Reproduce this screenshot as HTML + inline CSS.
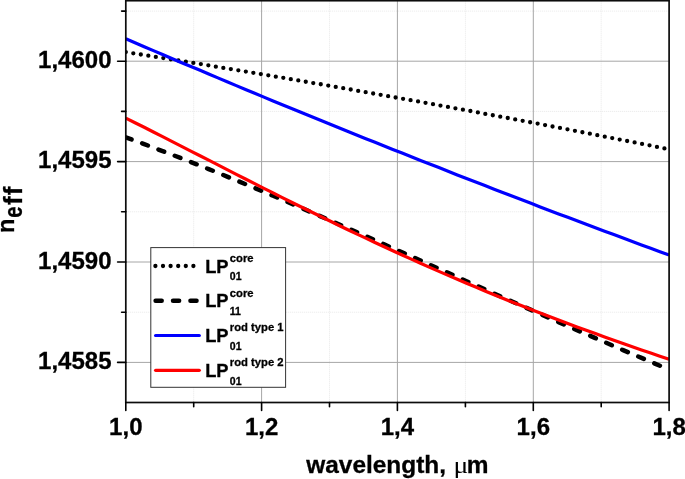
<!DOCTYPE html>
<html><head><meta charset="utf-8"><title>n_eff vs wavelength</title>
<style>
html,body{margin:0;padding:0;background:#fff;}
body{width:685px;height:479px;overflow:hidden;}
svg{display:block;}
text{font-family:"Liberation Sans",Arial,sans-serif;font-weight:bold;fill:#000;stroke:#000;stroke-width:0.3px;}
.mj{stroke:#a6a6a6;stroke-width:1;}
.mn{stroke:#e8e8e8;stroke-width:1;stroke-dasharray:1 1;}
.tk{stroke:#000;stroke-width:1.6;stroke-linecap:round;}
.tl{font-size:24px;}
.lp{font-size:18.3px;}
.ss{font-size:11.25px;}
.sb{font-size:10.5px;}
.c-dot{fill:none;stroke:#000;stroke-width:4.3;stroke-linecap:round;stroke-dasharray:0 7.6;}
.c-dash{fill:none;stroke:#000;stroke-width:4.5;stroke-linecap:round;stroke-dasharray:6.1 11.32;}
.c-blue{fill:none;stroke:#0000ff;stroke-width:3.2;stroke-linecap:round;}
.c-red{fill:none;stroke:#ff0000;stroke-width:3.2;stroke-linecap:round;}
</style></head>
<body>
<svg width="685" height="479" viewBox="0 0 685 479">
<rect width="685" height="479" fill="#fff"/>
<g>
<line x1="193.7" y1="0.7" x2="193.7" y2="402.5" class="mn"/>
<line x1="329.5" y1="0.7" x2="329.5" y2="402.5" class="mn"/>
<line x1="465.4" y1="0.7" x2="465.4" y2="402.5" class="mn"/>
<line x1="601.2" y1="0.7" x2="601.2" y2="402.5" class="mn"/>
<line x1="125.8" y1="11.1" x2="669.1" y2="11.1" class="mn"/>
<line x1="125.8" y1="111.4" x2="669.1" y2="111.4" class="mn"/>
<line x1="125.8" y1="211.8" x2="669.1" y2="211.8" class="mn"/>
<line x1="125.8" y1="312.2" x2="669.1" y2="312.2" class="mn"/>
<line x1="261.6" y1="0.7" x2="261.6" y2="402.5" class="mj"/>
<line x1="397.4" y1="0.7" x2="397.4" y2="402.5" class="mj"/>
<line x1="533.3" y1="0.7" x2="533.3" y2="402.5" class="mj"/>
<line x1="125.8" y1="61.2" x2="669.1" y2="61.2" class="mj"/>
<line x1="125.8" y1="161.6" x2="669.1" y2="161.6" class="mj"/>
<line x1="125.8" y1="262.0" x2="669.1" y2="262.0" class="mj"/>
<line x1="125.8" y1="362.4" x2="669.1" y2="362.4" class="mj"/>
</g>
<clipPath id="cp"><rect x="125.8" y="0.7" width="543.3000000000001" height="401.8"/></clipPath>
<g clip-path="url(#cp)">
<path d="M125.8,52.1 L135.0,53.6 L144.2,55.0 L153.4,56.5 L162.6,58.0 L171.8,59.5 L181.1,60.9 L190.3,62.4 L199.5,63.9 L208.7,65.4 L217.9,67.0 L227.1,68.5 L236.3,70.0 L245.5,71.5 L254.7,73.1 L263.9,74.6 L273.1,76.2 L282.3,77.7 L291.6,79.3 L300.8,80.9 L310.0,82.5 L319.2,84.0 L328.4,85.6 L337.6,87.2 L346.8,88.8 L356.0,90.5 L365.2,92.1 L374.4,93.7 L383.6,95.3 L392.8,97.0 L402.1,98.6 L411.3,100.3 L420.5,101.9 L429.7,103.6 L438.9,105.3 L448.1,107.0 L457.3,108.7 L466.5,110.3 L475.7,112.0 L484.9,113.8 L494.1,115.5 L503.3,117.2 L512.6,118.9 L521.8,120.7 L531.0,122.4 L540.2,124.1 L549.4,125.9 L558.6,127.7 L567.8,129.4 L577.0,131.2 L586.2,133.0 L595.4,134.8 L604.6,136.6 L613.8,138.4 L623.1,140.2 L632.3,142.0 L641.5,143.8 L650.7,145.6 L659.9,147.5 L669.1,149.3" class="c-dot"/>
<path d="M125.8,137.4 L135.0,140.7 L144.2,144.1 L153.4,147.6 L162.6,151.1 L171.8,154.6 L181.1,158.2 L190.3,161.8 L199.5,165.4 L208.7,169.1 L217.9,172.8 L227.1,176.6 L236.3,180.4 L245.5,184.2 L254.7,188.0 L263.9,191.9 L273.1,195.8 L282.3,199.7 L291.6,203.7 L300.8,207.7 L310.0,211.7 L319.2,215.7 L328.4,219.7 L337.6,223.7 L346.8,227.8 L356.0,231.8 L365.2,235.9 L374.4,240.0 L383.6,244.1 L392.8,248.2 L402.1,252.3 L411.3,256.4 L420.5,260.5 L429.7,264.7 L438.9,268.8 L448.1,272.9 L457.3,277.0 L466.5,281.2 L475.7,285.3 L484.9,289.4 L494.1,293.5 L503.3,297.6 L512.6,301.7 L521.8,305.8 L531.0,309.9 L540.2,313.9 L549.4,318.0 L558.6,322.1 L567.8,326.1 L577.0,330.1 L586.2,334.1 L595.4,338.1 L604.6,342.1 L613.8,346.1 L623.1,350.1 L632.3,354.0 L641.5,357.9 L650.7,361.8 L659.9,365.7 L669.1,369.6" class="c-dash"/>
<path d="M125.8,38.8 L135.0,42.7 L144.2,46.7 L153.4,50.6 L162.6,54.5 L171.8,58.5 L181.1,62.4 L190.3,66.3 L199.5,70.1 L208.7,74.0 L217.9,77.9 L227.1,81.7 L236.3,85.6 L245.5,89.4 L254.7,93.2 L263.9,97.1 L273.1,100.9 L282.3,104.7 L291.6,108.4 L300.8,112.2 L310.0,116.0 L319.2,119.7 L328.4,123.5 L337.6,127.2 L346.8,130.9 L356.0,134.7 L365.2,138.4 L374.4,142.1 L383.6,145.7 L392.8,149.4 L402.1,153.1 L411.3,156.7 L420.5,160.4 L429.7,164.0 L438.9,167.6 L448.1,171.3 L457.3,174.9 L466.5,178.5 L475.7,182.0 L484.9,185.6 L494.1,189.2 L503.3,192.7 L512.6,196.3 L521.8,199.8 L531.0,203.3 L540.2,206.9 L549.4,210.4 L558.6,213.9 L567.8,217.3 L577.0,220.8 L586.2,224.3 L595.4,227.7 L604.6,231.2 L613.8,234.6 L623.1,238.1 L632.3,241.5 L641.5,244.9 L650.7,248.3 L659.9,251.7 L669.1,255.0" class="c-blue" style="stroke-linecap:butt"/>
<path d="M125.8,118.1 L135.0,122.7 L144.2,127.3 L153.4,132.0 L162.6,136.7 L171.8,141.4 L181.1,146.1 L190.3,150.8 L199.5,155.5 L208.7,160.2 L217.9,164.9 L227.1,169.6 L236.3,174.3 L245.5,179.0 L254.7,183.6 L263.9,188.3 L273.1,192.9 L282.3,197.6 L291.6,202.2 L300.8,206.7 L310.0,211.3 L319.2,215.8 L328.4,220.3 L337.6,224.8 L346.8,229.2 L356.0,233.6 L365.2,237.9 L374.4,242.3 L383.6,246.5 L392.8,250.8 L402.1,255.0 L411.3,259.1 L420.5,263.3 L429.7,267.4 L438.9,271.4 L448.1,275.4 L457.3,279.3 L466.5,283.3 L475.7,287.1 L484.9,290.9 L494.1,294.7 L503.3,298.5 L512.6,302.2 L521.8,305.8 L531.0,309.4 L540.2,313.0 L549.4,316.5 L558.6,320.0 L567.8,323.5 L577.0,326.9 L586.2,330.3 L595.4,333.6 L604.6,336.9 L613.8,340.2 L623.1,343.5 L632.3,346.7 L641.5,349.9 L650.7,353.0 L659.9,356.2 L669.1,359.3" class="c-red" style="stroke-linecap:butt"/>
</g>
<rect x="150.8" y="247.6" width="134.8" height="139.7" fill="#fff" stroke="#333" stroke-width="1"/>
<path d="M155.4,266.0 H193.5" class="c-dot"/>
<text x="205.2" y="272.6" class="lp">LP</text>
<text x="229.8" y="261.8" class="ss">core</text>
<text x="229.8" y="280.2" class="sb">01</text>
<path d="M155.6,300.8 H199" class="c-dash"/>
<text x="205.2" y="307.4" class="lp">LP</text>
<text x="229.8" y="296.6" class="ss">core</text>
<text x="229.8" y="315.0" class="sb">11</text>
<path d="M155.6,335.5 H199.3" class="c-blue" />
<text x="205.2" y="342.1" class="lp">LP</text>
<text x="229.8" y="331.3" class="ss">rod type 1</text>
<text x="229.8" y="349.7" class="sb">01</text>
<path d="M155.6,370.3 H199.3" class="c-red" />
<text x="205.2" y="376.9" class="lp">LP</text>
<text x="229.8" y="366.1" class="ss">rod type 2</text>
<text x="229.8" y="384.5" class="sb">01</text>
<rect x="125.8" y="0.7" width="543.3000000000001" height="401.8" fill="none" stroke="#0c0c0c" stroke-width="1.7"/>
<line x1="125.8" y1="402.5" x2="125.8" y2="410.4" class="tk"/>
<line x1="261.6" y1="402.5" x2="261.6" y2="410.4" class="tk"/>
<line x1="397.4" y1="402.5" x2="397.4" y2="410.4" class="tk"/>
<line x1="533.3" y1="402.5" x2="533.3" y2="410.4" class="tk"/>
<line x1="669.1" y1="402.5" x2="669.1" y2="410.4" class="tk"/>
<line x1="193.7" y1="402.5" x2="193.7" y2="406.7" class="tk"/>
<line x1="329.5" y1="402.5" x2="329.5" y2="406.7" class="tk"/>
<line x1="465.4" y1="402.5" x2="465.4" y2="406.7" class="tk"/>
<line x1="601.2" y1="402.5" x2="601.2" y2="406.7" class="tk"/>
<line x1="117.6" y1="61.2" x2="125.8" y2="61.2" class="tk"/>
<line x1="117.6" y1="161.6" x2="125.8" y2="161.6" class="tk"/>
<line x1="117.6" y1="262.0" x2="125.8" y2="262.0" class="tk"/>
<line x1="117.6" y1="362.4" x2="125.8" y2="362.4" class="tk"/>
<line x1="121.6" y1="11.1" x2="125.8" y2="11.1" class="tk"/>
<line x1="121.6" y1="111.4" x2="125.8" y2="111.4" class="tk"/>
<line x1="121.6" y1="211.8" x2="125.8" y2="211.8" class="tk"/>
<line x1="121.6" y1="312.2" x2="125.8" y2="312.2" class="tk"/>
<text x="125.8" y="435" text-anchor="middle" class="tl">1,0</text>
<text x="261.6" y="435" text-anchor="middle" class="tl">1,2</text>
<text x="397.4" y="435" text-anchor="middle" class="tl">1,4</text>
<text x="533.3" y="435" text-anchor="middle" class="tl">1,6</text>
<text x="669.1" y="435" text-anchor="middle" class="tl">1,8</text>
<text x="111.5" y="68.0" text-anchor="end" class="tl">1,4600</text>
<text x="111.5" y="168.4" text-anchor="end" class="tl">1,4595</text>
<text x="111.5" y="268.8" text-anchor="end" class="tl">1,4590</text>
<text x="111.5" y="369.2" text-anchor="end" class="tl">1,4585</text>
<text x="306.2" y="472.8" style="font-size:24.45px">wavelength,</text>
<text transform="translate(453.5,472.8) scale(1.2,1)" style="font-family:'Liberation Serif','DejaVu Serif',serif;font-weight:normal;font-size:23px;stroke:none">μ</text>
<text x="466.7" y="472.8" style="font-size:24.45px">m</text>
<g transform="rotate(-90)" class="bd">
<text x="-232.9" y="14.4" style="font-size:23.5px">n</text>
<text transform="translate(-217.8,21.8) scale(0.78,1)" x="0" y="0" style="font-size:26px">e</text>
<text x="-205.0" y="21.8" style="font-size:26px;letter-spacing:1px">ff</text>
</g>
</svg>
</body></html>
